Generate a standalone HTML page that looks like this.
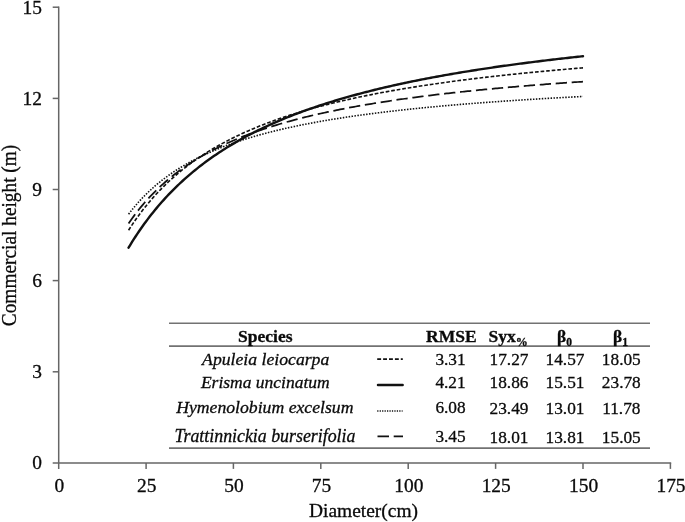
<!DOCTYPE html>
<html><head><meta charset="utf-8"><title>chart</title>
<style>
html,body{margin:0;padding:0;background:#fff;}
body{width:685px;height:522px;overflow:hidden;}
svg{display:block;will-change:transform;}
text{font-family:"Liberation Serif",serif;fill:#0a0a0a;stroke:#0a0a0a;stroke-width:0.3px;}
.n{font-size:19.4px;}
.t{font-size:17.3px;}
.b{font-size:17.5px;font-weight:bold;}
.i{font-size:17.5px;font-style:italic;}
</style></head><body>
<svg width="685" height="522" viewBox="0 0 685 522">
<rect width="685" height="522" fill="#fff"/>

<g stroke="#666" stroke-width="1.5" fill="none">
<path d="M58.7,6.5 V468.9"/>
<path d="M52.7,462.9 H671.2"/>
<path d="M52.7,371.8 H58.7"/>
<path d="M52.7,280.6 H58.7"/>
<path d="M52.7,189.5 H58.7"/>
<path d="M52.7,98.4 H58.7"/>
<path d="M52.7,7.2 H58.7"/>
<path d="M146.1,462.9 V468.9"/>
<path d="M233.4,462.9 V468.9"/>
<path d="M320.8,462.9 V468.9"/>
<path d="M408.2,462.9 V468.9"/>
<path d="M495.6,462.9 V468.9"/>
<path d="M583.0,462.9 V468.9"/>
<path d="M670.4,462.9 V468.9"/>
</g>
<text class="n" x="42" y="469.3" text-anchor="end">0</text>
<text class="n" x="42" y="378.2" text-anchor="end">3</text>
<text class="n" x="42" y="287.1" text-anchor="end">6</text>
<text class="n" x="42" y="196.0" text-anchor="end">9</text>
<text class="n" x="42" y="104.8" text-anchor="end">12</text>
<text class="n" x="42" y="13.7" text-anchor="end">15</text>
<text class="n" x="59.3" y="492" text-anchor="middle">0</text>
<text class="n" x="146.7" y="492" text-anchor="middle">25</text>
<text class="n" x="234.0" y="492" text-anchor="middle">50</text>
<text class="n" x="321.4" y="492" text-anchor="middle">75</text>
<text class="n" x="408.8" y="492" text-anchor="middle">100</text>
<text class="n" x="496.2" y="492" text-anchor="middle">125</text>
<text class="n" x="583.6" y="492" text-anchor="middle">150</text>
<text class="n" x="671.0" y="492" text-anchor="middle">175</text>
<text class="n" style="font-size:21.1px" transform="translate(15.7,326.2) rotate(-90)" textLength="181.5" lengthAdjust="spacingAndGlyphs">Commercial height (m)</text>
<text class="n" x="309" y="517" textLength="109" lengthAdjust="spacingAndGlyphs">Diameter(cm)</text>
<g fill="none" stroke="#111">
<path d="M128.57,230.26 L130.32,227.54 L132.07,224.89 L133.82,222.30 L135.57,219.78 L137.31,217.32 L139.06,214.92 L140.81,212.58 L142.56,210.29 L144.30,208.06 L146.05,205.88 L147.80,203.75 L149.55,201.66 L151.30,199.63 L153.04,197.64 L154.79,195.69 L156.54,193.79 L158.29,191.92 L160.04,190.10 L161.78,188.32 L163.53,186.57 L165.28,184.86 L167.03,183.18 L168.77,181.53 L170.52,179.92 L172.27,178.34 L174.02,176.80 L175.77,175.28 L177.51,173.79 L179.26,172.33 L181.01,170.90 L182.76,169.49 L184.51,168.11 L186.25,166.76 L188.00,165.43 L189.75,164.12 L191.50,162.84 L193.24,161.58 L194.99,160.34 L196.74,159.12 L198.49,157.93 L200.24,156.75 L201.98,155.60 L203.73,154.46 L205.48,153.34 L207.23,152.24 L208.98,151.16 L210.72,150.10 L212.47,149.05 L214.22,148.03 L215.97,147.01 L217.71,146.02 L219.46,145.03 L221.21,144.07 L222.96,143.12 L224.71,142.18 L226.45,141.26 L228.20,140.35 L229.95,139.45 L231.70,138.57 L233.44,137.70 L235.19,136.85 L236.94,136.00 L238.69,135.17 L240.44,134.35 L242.18,133.54 L243.93,132.75 L245.68,131.96 L247.43,131.19 L249.18,130.42 L250.92,129.67 L252.67,128.92 L254.42,128.19 L256.17,127.47 L257.91,126.75 L259.66,126.05 L261.41,125.35 L263.16,124.67 L264.91,123.99 L266.65,123.32 L268.40,122.66 L270.15,122.01 L271.90,121.37 L273.65,120.73 L275.39,120.10 L277.14,119.49 L278.89,118.87 L280.64,118.27 L282.38,117.67 L284.13,117.08 L285.88,116.50 L287.63,115.92 L289.38,115.36 L291.12,114.79 L292.87,114.24 L294.62,113.69 L296.37,113.15 L298.12,112.61 L299.86,112.08 L301.61,111.56 L303.36,111.04 L305.11,110.53 L306.85,110.02 L308.60,109.52 L310.35,109.02 L312.10,108.53 L313.85,108.05 L315.59,107.57 L317.34,107.09 L319.09,106.63 L320.84,106.16 L322.59,105.70 L324.33,105.25 L326.08,104.80 L327.83,104.36 L329.58,103.92 L331.32,103.48 L333.07,103.05 L334.82,102.62 L336.57,102.20 L338.32,101.78 L340.06,101.37 L341.81,100.96 L343.56,100.56 L345.31,100.16 L347.06,99.76 L348.80,99.37 L350.55,98.98 L352.30,98.59 L354.05,98.21 L355.79,97.83 L357.54,97.46 L359.29,97.09 L361.04,96.72 L362.79,96.35 L364.53,95.99 L366.28,95.64 L368.03,95.28 L369.78,94.93 L371.53,94.59 L373.27,94.24 L375.02,93.90 L376.77,93.57 L378.52,93.23 L380.26,92.90 L382.01,92.57 L383.76,92.25 L385.51,91.92 L387.26,91.60 L389.00,91.29 L390.75,90.97 L392.50,90.66 L394.25,90.35 L396.00,90.05 L397.74,89.74 L399.49,89.44 L401.24,89.15 L402.99,88.85 L404.73,88.56 L406.48,88.27 L408.23,87.98 L409.98,87.69 L411.73,87.41 L413.47,87.13 L415.22,86.85 L416.97,86.58 L418.72,86.30 L420.46,86.03 L422.21,85.76 L423.96,85.50 L425.71,85.23 L427.46,84.97 L429.20,84.71 L430.95,84.45 L432.70,84.19 L434.45,83.94 L436.20,83.69 L437.94,83.43 L439.69,83.19 L441.44,82.94 L443.19,82.70 L444.93,82.45 L446.68,82.21 L448.43,81.97 L450.18,81.74 L451.93,81.50 L453.67,81.27 L455.42,81.04 L457.17,80.81 L458.92,80.58 L460.67,80.35 L462.41,80.13 L464.16,79.90 L465.91,79.68 L467.66,79.46 L469.40,79.24 L471.15,79.03 L472.90,78.81 L474.65,78.60 L476.40,78.39 L478.14,78.18 L479.89,77.97 L481.64,77.76 L483.39,77.55 L485.14,77.35 L486.88,77.15 L488.63,76.95 L490.38,76.75 L492.13,76.55 L493.87,76.35 L495.62,76.15 L497.37,75.96 L499.12,75.77 L500.87,75.57 L502.61,75.38 L504.36,75.19 L506.11,75.01 L507.86,74.82 L509.61,74.63 L511.35,74.45 L513.10,74.27 L514.85,74.09 L516.60,73.91 L518.34,73.73 L520.09,73.55 L521.84,73.37 L523.59,73.20 L525.34,73.02 L527.08,72.85 L528.83,72.68 L530.58,72.50 L532.33,72.33 L534.08,72.17 L535.82,72.00 L537.57,71.83 L539.32,71.67 L541.07,71.50 L542.81,71.34 L544.56,71.17 L546.31,71.01 L548.06,70.85 L549.81,70.69 L551.55,70.54 L553.30,70.38 L555.05,70.22 L556.80,70.07 L558.55,69.91 L560.29,69.76 L562.04,69.61 L563.79,69.45 L565.54,69.30 L567.28,69.15 L569.03,69.00 L570.78,68.86 L572.53,68.71 L574.28,68.56 L576.02,68.42 L577.77,68.27 L579.52,68.13 L581.27,67.99 L583.01,67.85" stroke-width="1.6" stroke-dasharray="3.7,1.879"/>
<path d="M128.57,214.19 L130.32,211.92 L132.07,209.72 L133.82,207.58 L135.57,205.51 L137.31,203.50 L139.06,201.55 L140.81,199.65 L142.56,197.81 L144.30,196.02 L146.05,194.27 L147.80,192.57 L149.55,190.92 L151.30,189.31 L153.04,187.74 L154.79,186.22 L156.54,184.73 L158.29,183.27 L160.04,181.86 L161.78,180.47 L163.53,179.12 L165.28,177.81 L167.03,176.52 L168.77,175.26 L170.52,174.03 L172.27,172.83 L174.02,171.66 L175.77,170.51 L177.51,169.39 L179.26,168.29 L181.01,167.21 L182.76,166.16 L184.51,165.13 L186.25,164.12 L188.00,163.13 L189.75,162.17 L191.50,161.22 L193.24,160.29 L194.99,159.38 L196.74,158.48 L198.49,157.60 L200.24,156.74 L201.98,155.90 L203.73,155.07 L205.48,154.26 L207.23,153.46 L208.98,152.68 L210.72,151.91 L212.47,151.16 L214.22,150.42 L215.97,149.69 L217.71,148.97 L219.46,148.27 L221.21,147.58 L222.96,146.90 L224.71,146.23 L226.45,145.57 L228.20,144.93 L229.95,144.29 L231.70,143.67 L233.44,143.05 L235.19,142.45 L236.94,141.85 L238.69,141.27 L240.44,140.69 L242.18,140.12 L243.93,139.56 L245.68,139.01 L247.43,138.47 L249.18,137.94 L250.92,137.41 L252.67,136.89 L254.42,136.38 L256.17,135.88 L257.91,135.38 L259.66,134.89 L261.41,134.41 L263.16,133.94 L264.91,133.47 L266.65,133.01 L268.40,132.55 L270.15,132.10 L271.90,131.66 L273.65,131.23 L275.39,130.80 L277.14,130.37 L278.89,129.95 L280.64,129.54 L282.38,129.13 L284.13,128.73 L285.88,128.33 L287.63,127.94 L289.38,127.55 L291.12,127.17 L292.87,126.79 L294.62,126.42 L296.37,126.05 L298.12,125.69 L299.86,125.33 L301.61,124.97 L303.36,124.62 L305.11,124.28 L306.85,123.93 L308.60,123.60 L310.35,123.26 L312.10,122.93 L313.85,122.61 L315.59,122.29 L317.34,121.97 L319.09,121.65 L320.84,121.34 L322.59,121.04 L324.33,120.73 L326.08,120.43 L327.83,120.13 L329.58,119.84 L331.32,119.55 L333.07,119.26 L334.82,118.98 L336.57,118.70 L338.32,118.42 L340.06,118.15 L341.81,117.87 L343.56,117.60 L345.31,117.34 L347.06,117.07 L348.80,116.81 L350.55,116.56 L352.30,116.30 L354.05,116.05 L355.79,115.80 L357.54,115.55 L359.29,115.31 L361.04,115.07 L362.79,114.83 L364.53,114.59 L366.28,114.35 L368.03,114.12 L369.78,113.89 L371.53,113.66 L373.27,113.44 L375.02,113.21 L376.77,112.99 L378.52,112.77 L380.26,112.55 L382.01,112.34 L383.76,112.13 L385.51,111.92 L387.26,111.71 L389.00,111.50 L390.75,111.29 L392.50,111.09 L394.25,110.89 L396.00,110.69 L397.74,110.49 L399.49,110.30 L401.24,110.10 L402.99,109.91 L404.73,109.72 L406.48,109.53 L408.23,109.34 L409.98,109.16 L411.73,108.97 L413.47,108.79 L415.22,108.61 L416.97,108.43 L418.72,108.26 L420.46,108.08 L422.21,107.91 L423.96,107.73 L425.71,107.56 L427.46,107.39 L429.20,107.22 L430.95,107.06 L432.70,106.89 L434.45,106.73 L436.20,106.56 L437.94,106.40 L439.69,106.24 L441.44,106.08 L443.19,105.92 L444.93,105.77 L446.68,105.61 L448.43,105.46 L450.18,105.31 L451.93,105.16 L453.67,105.00 L455.42,104.86 L457.17,104.71 L458.92,104.56 L460.67,104.42 L462.41,104.27 L464.16,104.13 L465.91,103.99 L467.66,103.85 L469.40,103.71 L471.15,103.57 L472.90,103.43 L474.65,103.29 L476.40,103.16 L478.14,103.02 L479.89,102.89 L481.64,102.76 L483.39,102.63 L485.14,102.49 L486.88,102.37 L488.63,102.24 L490.38,102.11 L492.13,101.98 L493.87,101.86 L495.62,101.73 L497.37,101.61 L499.12,101.48 L500.87,101.36 L502.61,101.24 L504.36,101.12 L506.11,101.00 L507.86,100.88 L509.61,100.76 L511.35,100.65 L513.10,100.53 L514.85,100.42 L516.60,100.30 L518.34,100.19 L520.09,100.07 L521.84,99.96 L523.59,99.85 L525.34,99.74 L527.08,99.63 L528.83,99.52 L530.58,99.41 L532.33,99.31 L534.08,99.20 L535.82,99.09 L537.57,98.99 L539.32,98.88 L541.07,98.78 L542.81,98.67 L544.56,98.57 L546.31,98.47 L548.06,98.37 L549.81,98.27 L551.55,98.17 L553.30,98.07 L555.05,97.97 L556.80,97.87 L558.55,97.77 L560.29,97.68 L562.04,97.58 L563.79,97.48 L565.54,97.39 L567.28,97.30 L569.03,97.20 L570.78,97.11 L572.53,97.02 L574.28,96.92 L576.02,96.83 L577.77,96.74 L579.52,96.65 L581.27,96.56 L583.01,96.47" stroke-width="1.6" stroke-dasharray="1.5,1.44"/>
<path d="M128.57,223.52 L130.32,220.99 L132.07,218.53 L133.82,216.13 L135.57,213.80 L137.31,211.53 L139.06,209.32 L140.81,207.17 L142.56,205.07 L144.30,203.03 L146.05,201.04 L147.80,199.09 L149.55,197.20 L151.30,195.34 L153.04,193.54 L154.79,191.77 L156.54,190.05 L158.29,188.37 L160.04,186.72 L161.78,185.11 L163.53,183.54 L165.28,182.00 L167.03,180.50 L168.77,179.02 L170.52,177.58 L172.27,176.17 L174.02,174.79 L175.77,173.44 L177.51,172.11 L179.26,170.81 L181.01,169.54 L182.76,168.29 L184.51,167.07 L186.25,165.87 L188.00,164.69 L189.75,163.54 L191.50,162.41 L193.24,161.29 L194.99,160.20 L196.74,159.13 L198.49,158.08 L200.24,157.05 L201.98,156.04 L203.73,155.04 L205.48,154.06 L207.23,153.10 L208.98,152.15 L210.72,151.23 L212.47,150.31 L214.22,149.41 L215.97,148.53 L217.71,147.66 L219.46,146.81 L221.21,145.97 L222.96,145.14 L224.71,144.33 L226.45,143.53 L228.20,142.74 L229.95,141.97 L231.70,141.20 L233.44,140.45 L235.19,139.71 L236.94,138.98 L238.69,138.26 L240.44,137.56 L242.18,136.86 L243.93,136.17 L245.68,135.50 L247.43,134.83 L249.18,134.17 L250.92,133.52 L252.67,132.88 L254.42,132.25 L256.17,131.63 L257.91,131.02 L259.66,130.42 L261.41,129.82 L263.16,129.23 L264.91,128.65 L266.65,128.08 L268.40,127.52 L270.15,126.96 L271.90,126.41 L273.65,125.87 L275.39,125.33 L277.14,124.81 L278.89,124.28 L280.64,123.77 L282.38,123.26 L284.13,122.76 L285.88,122.26 L287.63,121.77 L289.38,121.29 L291.12,120.81 L292.87,120.34 L294.62,119.88 L296.37,119.41 L298.12,118.96 L299.86,118.51 L301.61,118.07 L303.36,117.63 L305.11,117.19 L306.85,116.76 L308.60,116.34 L310.35,115.92 L312.10,115.51 L313.85,115.10 L315.59,114.69 L317.34,114.29 L319.09,113.90 L320.84,113.51 L322.59,113.12 L324.33,112.74 L326.08,112.36 L327.83,111.98 L329.58,111.61 L331.32,111.25 L333.07,110.88 L334.82,110.52 L336.57,110.17 L338.32,109.82 L340.06,109.47 L341.81,109.13 L343.56,108.79 L345.31,108.45 L347.06,108.12 L348.80,107.78 L350.55,107.46 L352.30,107.13 L354.05,106.81 L355.79,106.50 L357.54,106.18 L359.29,105.87 L361.04,105.57 L362.79,105.26 L364.53,104.96 L366.28,104.66 L368.03,104.36 L369.78,104.07 L371.53,103.78 L373.27,103.49 L375.02,103.21 L376.77,102.93 L378.52,102.65 L380.26,102.37 L382.01,102.10 L383.76,101.83 L385.51,101.56 L387.26,101.29 L389.00,101.03 L390.75,100.76 L392.50,100.50 L394.25,100.25 L396.00,99.99 L397.74,99.74 L399.49,99.49 L401.24,99.24 L402.99,99.00 L404.73,98.75 L406.48,98.51 L408.23,98.27 L409.98,98.03 L411.73,97.80 L413.47,97.56 L415.22,97.33 L416.97,97.10 L418.72,96.88 L420.46,96.65 L422.21,96.43 L423.96,96.20 L425.71,95.98 L427.46,95.77 L429.20,95.55 L430.95,95.34 L432.70,95.12 L434.45,94.91 L436.20,94.70 L437.94,94.49 L439.69,94.29 L441.44,94.08 L443.19,93.88 L444.93,93.68 L446.68,93.48 L448.43,93.28 L450.18,93.09 L451.93,92.89 L453.67,92.70 L455.42,92.51 L457.17,92.32 L458.92,92.13 L460.67,91.94 L462.41,91.75 L464.16,91.57 L465.91,91.39 L467.66,91.21 L469.40,91.03 L471.15,90.85 L472.90,90.67 L474.65,90.49 L476.40,90.32 L478.14,90.14 L479.89,89.97 L481.64,89.80 L483.39,89.63 L485.14,89.46 L486.88,89.29 L488.63,89.13 L490.38,88.96 L492.13,88.80 L493.87,88.64 L495.62,88.47 L497.37,88.31 L499.12,88.15 L500.87,88.00 L502.61,87.84 L504.36,87.68 L506.11,87.53 L507.86,87.38 L509.61,87.22 L511.35,87.07 L513.10,86.92 L514.85,86.77 L516.60,86.62 L518.34,86.47 L520.09,86.33 L521.84,86.18 L523.59,86.04 L525.34,85.89 L527.08,85.75 L528.83,85.61 L530.58,85.47 L532.33,85.33 L534.08,85.19 L535.82,85.05 L537.57,84.92 L539.32,84.78 L541.07,84.65 L542.81,84.51 L544.56,84.38 L546.31,84.24 L548.06,84.11 L549.81,83.98 L551.55,83.85 L553.30,83.72 L555.05,83.59 L556.80,83.47 L558.55,83.34 L560.29,83.21 L562.04,83.09 L563.79,82.96 L565.54,82.84 L567.28,82.72 L569.03,82.60 L570.78,82.47 L572.53,82.35 L574.28,82.23 L576.02,82.12 L577.77,82.00 L579.52,81.88 L581.27,81.76 L583.01,81.65" stroke-width="1.75" stroke-dasharray="11.3,4.71"/>
<path d="M128.57,247.67 L130.32,244.78 L132.07,241.95 L133.82,239.19 L135.57,236.49 L137.31,233.84 L139.06,231.25 L140.81,228.72 L142.56,226.24 L144.30,223.81 L146.05,221.43 L147.80,219.10 L149.55,216.82 L151.30,214.58 L153.04,212.39 L154.79,210.24 L156.54,208.13 L158.29,206.06 L160.04,204.03 L161.78,202.04 L163.53,200.08 L165.28,198.16 L167.03,196.28 L168.77,194.43 L170.52,192.61 L172.27,190.83 L174.02,189.07 L175.77,187.35 L177.51,185.66 L179.26,184.00 L181.01,182.36 L182.76,180.75 L184.51,179.17 L186.25,177.62 L188.00,176.09 L189.75,174.58 L191.50,173.10 L193.24,171.65 L194.99,170.22 L196.74,168.81 L198.49,167.42 L200.24,166.05 L201.98,164.71 L203.73,163.38 L205.48,162.08 L207.23,160.79 L208.98,159.53 L210.72,158.28 L212.47,157.05 L214.22,155.84 L215.97,154.65 L217.71,153.47 L219.46,152.31 L221.21,151.17 L222.96,150.04 L224.71,148.93 L226.45,147.84 L228.20,146.76 L229.95,145.69 L231.70,144.64 L233.44,143.61 L235.19,142.59 L236.94,141.58 L238.69,140.58 L240.44,139.60 L242.18,138.63 L243.93,137.67 L245.68,136.73 L247.43,135.80 L249.18,134.88 L250.92,133.97 L252.67,133.07 L254.42,132.19 L256.17,131.31 L257.91,130.45 L259.66,129.60 L261.41,128.75 L263.16,127.92 L264.91,127.10 L266.65,126.29 L268.40,125.48 L270.15,124.69 L271.90,123.91 L273.65,123.13 L275.39,122.36 L277.14,121.61 L278.89,120.86 L280.64,120.12 L282.38,119.39 L284.13,118.67 L285.88,117.95 L287.63,117.24 L289.38,116.55 L291.12,115.85 L292.87,115.17 L294.62,114.49 L296.37,113.83 L298.12,113.16 L299.86,112.51 L301.61,111.86 L303.36,111.22 L305.11,110.59 L306.85,109.96 L308.60,109.34 L310.35,108.73 L312.10,108.12 L313.85,107.52 L315.59,106.92 L317.34,106.34 L319.09,105.75 L320.84,105.18 L322.59,104.60 L324.33,104.04 L326.08,103.48 L327.83,102.92 L329.58,102.38 L331.32,101.83 L333.07,101.29 L334.82,100.76 L336.57,100.23 L338.32,99.71 L340.06,99.19 L341.81,98.68 L343.56,98.17 L345.31,97.67 L347.06,97.17 L348.80,96.68 L350.55,96.19 L352.30,95.70 L354.05,95.22 L355.79,94.75 L357.54,94.28 L359.29,93.81 L361.04,93.35 L362.79,92.89 L364.53,92.43 L366.28,91.98 L368.03,91.54 L369.78,91.10 L371.53,90.66 L373.27,90.22 L375.02,89.79 L376.77,89.36 L378.52,88.94 L380.26,88.52 L382.01,88.11 L383.76,87.69 L385.51,87.28 L387.26,86.88 L389.00,86.48 L390.75,86.08 L392.50,85.68 L394.25,85.29 L396.00,84.90 L397.74,84.52 L399.49,84.13 L401.24,83.75 L402.99,83.38 L404.73,83.00 L406.48,82.63 L408.23,82.27 L409.98,81.90 L411.73,81.54 L413.47,81.18 L415.22,80.83 L416.97,80.48 L418.72,80.13 L420.46,79.78 L422.21,79.43 L423.96,79.09 L425.71,78.75 L427.46,78.42 L429.20,78.08 L430.95,77.75 L432.70,77.42 L434.45,77.10 L436.20,76.77 L437.94,76.45 L439.69,76.13 L441.44,75.82 L443.19,75.50 L444.93,75.19 L446.68,74.88 L448.43,74.57 L450.18,74.27 L451.93,73.96 L453.67,73.66 L455.42,73.37 L457.17,73.07 L458.92,72.78 L460.67,72.48 L462.41,72.19 L464.16,71.91 L465.91,71.62 L467.66,71.34 L469.40,71.06 L471.15,70.78 L472.90,70.50 L474.65,70.22 L476.40,69.95 L478.14,69.68 L479.89,69.41 L481.64,69.14 L483.39,68.87 L485.14,68.61 L486.88,68.34 L488.63,68.08 L490.38,67.82 L492.13,67.57 L493.87,67.31 L495.62,67.06 L497.37,66.81 L499.12,66.55 L500.87,66.31 L502.61,66.06 L504.36,65.81 L506.11,65.57 L507.86,65.33 L509.61,65.09 L511.35,64.85 L513.10,64.61 L514.85,64.37 L516.60,64.14 L518.34,63.91 L520.09,63.67 L521.84,63.44 L523.59,63.22 L525.34,62.99 L527.08,62.76 L528.83,62.54 L530.58,62.32 L532.33,62.09 L534.08,61.87 L535.82,61.65 L537.57,61.44 L539.32,61.22 L541.07,61.01 L542.81,60.79 L544.56,60.58 L546.31,60.37 L548.06,60.16 L549.81,59.95 L551.55,59.75 L553.30,59.54 L555.05,59.34 L556.80,59.13 L558.55,58.93 L560.29,58.73 L562.04,58.53 L563.79,58.33 L565.54,58.13 L567.28,57.94 L569.03,57.74 L570.78,57.55 L572.53,57.36 L574.28,57.17 L576.02,56.98 L577.77,56.79 L579.52,56.60 L581.27,56.41 L583.01,56.22" stroke-width="2.4" stroke-linecap="round"/>
</g>
<g stroke="#727272" stroke-width="1.55">
<path d="M169,323.25 H650"/>
<path d="M169,346.10 H650"/>
<path d="M169,448.10 H650"/>
</g>
<text class="b" x="265.3" y="342" text-anchor="middle">Species</text>
<text class="b" x="451.3" y="342" text-anchor="middle">RMSE</text>
<text class="b" x="488.5" y="342">Syx<tspan font-size="12" dy="4.3">%</tspan></text>
<text class="b" x="557" y="342">β<tspan font-size="11.5" dy="4.2">0</tspan></text>
<text class="b" x="613" y="342">β<tspan font-size="11.5" dy="4.2">1</tspan></text>
<text class="i" style="font-size:17.70px" x="265.7" y="365.0" text-anchor="middle">Apuleia leiocarpa</text>
<text class="t" x="450.5" y="365.0" text-anchor="middle">3.31</text>
<text class="t" x="509" y="365.3" text-anchor="middle">17.27</text>
<text class="t" x="565" y="365.3" text-anchor="middle">14.57</text>
<text class="t" x="621.3" y="365.3" text-anchor="middle">18.05</text>
<text class="i" style="font-size:17.50px" x="265.3" y="387.5" text-anchor="middle">Erisma uncinatum</text>
<text class="t" x="450.5" y="387.5" text-anchor="middle">4.21</text>
<text class="t" x="509" y="387.8" text-anchor="middle">18.86</text>
<text class="t" x="565" y="387.8" text-anchor="middle">15.51</text>
<text class="t" x="621.3" y="387.8" text-anchor="middle">23.78</text>
<text class="i" style="font-size:17.70px" x="264.8" y="413.4" text-anchor="middle">Hymenolobium excelsum</text>
<text class="t" x="450.5" y="413.4" text-anchor="middle">6.08</text>
<text class="t" x="509" y="413.7" text-anchor="middle">23.49</text>
<text class="t" x="565" y="413.7" text-anchor="middle">13.01</text>
<text class="t" x="621.3" y="413.7" text-anchor="middle">11.78</text>
<text class="i" style="font-size:17.85px" x="265.0" y="442.2" text-anchor="middle">Trattinnickia burserifolia</text>
<text class="t" x="450.5" y="442.2" text-anchor="middle">3.45</text>
<text class="t" x="509" y="442.5" text-anchor="middle">18.01</text>
<text class="t" x="565" y="442.5" text-anchor="middle">13.81</text>
<text class="t" x="621.3" y="442.5" text-anchor="middle">15.05</text>
<g fill="none" stroke="#111">
<path d="M377.2,359.1 H402.8" stroke-width="1.6" stroke-dasharray="3.9,2.0"/>
<path d="M378,385 H402.6" stroke-width="2.5" stroke-linecap="round"/>
<path d="M377.2,410.9 H402.6" stroke-width="1.5" stroke-dasharray="1.25,1.2"/>
<path d="M377.5,436.3 H389 M393.7,436.3 H403" stroke-width="1.75"/>
</g>
</svg></body></html>
